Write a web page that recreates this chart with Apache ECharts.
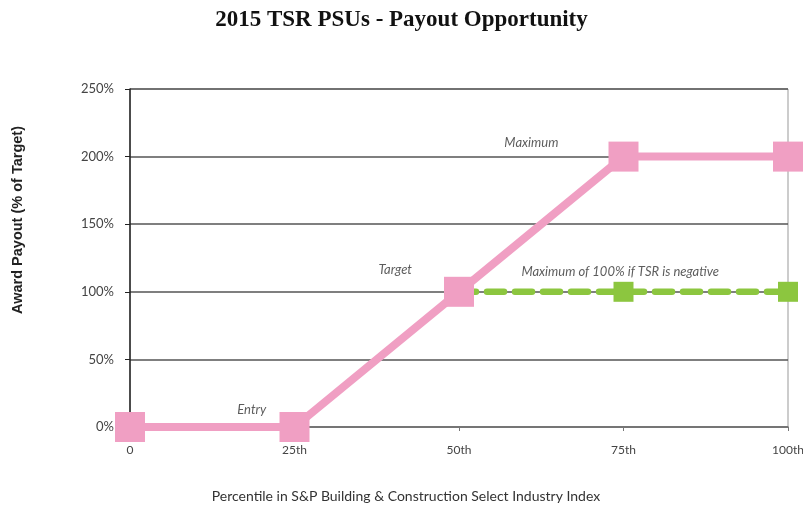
<!DOCTYPE html>
<html>
<head>
<meta charset="utf-8">
<script src="https://cdn.jsdelivr.net/npm/echarts@6/dist/echarts.min.js"></script>
<style>
  html, body { margin: 0; padding: 0; background: #fff; }
  #chart { width: 803px; height: 510px; }
</style>
</head>
<body>
<div id="chart"></div>
<script>
// percentile positions and their tick labels
const percentiles = [0, 25, 50, 75, 100];
const tickLabels = { 0: "0", 25: "25th", 50: "50th", 75: "75th", 100: "100th" };
// payout (% of target)
const payout = [0, 0, 100, 200, 200];
const negativeCapPct = [50, 75, 100];
const negativeCap = [100, 100, 100];
// annotations: [percentile, payout, text]
const notes = [
    [18.5, 12.5, "Entry"],
    [40.3, 116, "Target"],
    [61, 210, "Maximum"],
    [74.5, 115, "Maximum of 100% if TSR is negative"]
];

const chart = echarts.init(document.getElementById("chart"));
chart.setOption({
    backgroundColor: "#fff",
    animation: false,
    title: {
        text: "2015 TSR PSUs - Payout Opportunity",
        left: "center",
        top: 4,
        textStyle: {
            fontFamily: "Liberation Serif",
            fontWeight: "bold",
            fontSize: 23,
            color: "#111"
        }
    },
    // y axis title drawn separately so it can sit where the original has it
    graphic: [{
        type: "text",
        x: 18,
        y: 220,
        rotation: Math.PI / 2,
        style: {
            text: "Award Payout (% of Target)",
            fontFamily: "Liberation Sans",
            fontWeight: "bold",
            fontSize: 14.5,
            fill: "#222",
            align: "center",
            verticalAlign: "middle"
        }
    }],
    grid: {
        left: 130,
        right: 15,
        top: 89,
        bottom: 83,
        outerBoundsMode: "none",
        show: true,
        borderColor: "#999",
        borderWidth: 1
    },
    xAxis: {
        type: "value",
        min: 0,
        max: 100,
        interval: 25,
        name: "Percentile in S&P Building & Construction Select Industry Index",
        nameLocation: "middle",
        nameGap: 62,
        nameTextStyle: { fontFamily: "Lato", fontSize: 14, color: "#333", padding: [0, 106, 0, 0] },
        axisLine: { show: true, lineStyle: { color: "#777", width: 1.5 } },
        axisTick: { show: true, length: 4, lineStyle: { color: "#777" } },
        splitLine: { show: false },
        axisLabel: {
            formatter: (v) => tickLabels[v],
            fontFamily: "Lato",
            fontSize: 12,
            color: "#444",
            margin: 17
        }
    },
    yAxis: {
        type: "value",
        min: 0,
        max: 250,
        interval: 50,
        axisLine: { show: true, lineStyle: { color: "#222", width: 1.5 } },
        axisTick: { show: true, length: 5, lineStyle: { color: "#222" } },
        splitLine: { show: true, lineStyle: { color: "#555", width: 1.5 } },
        axisLabel: {
            formatter: "{value}%",
            fontFamily: "Lato",
            fontSize: 13,
            color: "#444",
            margin: 16
        }
    },
    series: [
        {
            name: "cap",
            type: "line",
            z: 2,
            data: negativeCapPct.map((p, i) => [p, negativeCap[i]]),
            symbol: "rect",
            symbolSize: (v, p) => (p.dataIndex === 0 ? 0 : 20),
            itemStyle: { color: "#8cc63f" },
            lineStyle: { color: "#8cc63f", width: 6.5, type: [17, 11], cap: "round" }
        },
        {
            name: "payout",
            type: "line",
            z: 3,
            data: percentiles.map((p, i) => [p, payout[i]]),
            symbol: "rect",
            symbolSize: 30,
            itemStyle: { color: "#f09fc3", opacity: 1 },
            lineStyle: { color: "#f09fc3", width: 8 }
        },
        {
            name: "notes",
            type: "scatter",
            z: 4,
            symbolSize: 0,
            data: notes.map((n) => ({ value: [n[0], n[1]], label: { formatter: n[2] } })),
            label: {
                show: true,
                position: "inside",
                fontFamily: "Lato",
                fontStyle: "italic",
                fontSize: 13,
                color: "#333"
            }
        }
    ]
});
</script>
</body>
</html>
